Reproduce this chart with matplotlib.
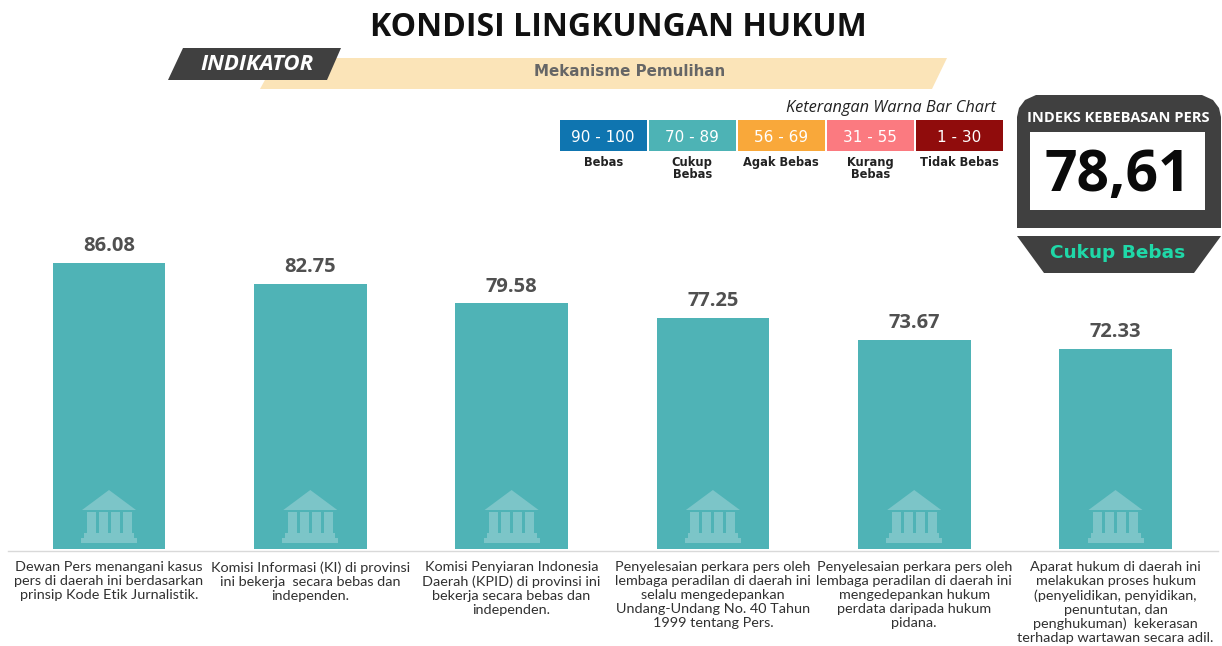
import matplotlib
matplotlib.use('Agg')
import numpy as np
import matplotlib.pyplot as plt
from matplotlib.patches import Polygon, Rectangle

W, H = 1222, 646

values = [86.08, 82.75, 79.58, 77.25, 73.67, 72.33]
captions = [
  'Dewan Pers menangani kasus\npers di daerah ini berdasarkan\nprinsip Kode Etik Jurnalistik.',
  'Komisi Informasi (KI) di provinsi\nini bekerja  secara bebas dan\nindependen.',
  'Komisi Penyiaran Indonesia\nDaerah (KPID) di provinsi ini\nbekerja secara bebas dan\nindependen.',
  'Penyelesaian perkara pers oleh\nlembaga peradilan di daerah ini\nselalu mengedepankan\nUndang-Undang No. 40 Tahun\n1999 tentang Pers.',
  'Penyelesaian perkara pers oleh\nlembaga peradilan di daerah ini\nmengedepankan hukum\nperdata daripada hukum\npidana.',
  'Aparat hukum di daerah ini\nmelakukan proses hukum\n(penyelidikan, penyidikan,\npenuntutan, dan\npenghukuman)  kekerasan\nterhadap wartawan secara adil.',
]
legend_ranges = ['90 - 100', '70 - 89', '56 - 69', '31 - 55', '1 - 30']
legend_names = ['Bebas', 'Cukup\nBebas', 'Agak Bebas', 'Kurang\nBebas', 'Tidak Bebas']
legend_colors = ['#0f75b0', '#4db3b5', '#f9a83a', '#fb7a80', '#900c0c']

BAR = '#4fb3b6'
ICON = '#7cc5c8'
DARK = '#404040'

fig = plt.figure(figsize=(W / 100, H / 100), dpi=100)

# bars: baseline is not zero, the axis starts near 40.3
ax = fig.add_axes([8.4 / W, (H - 549) / H, 1208 / W, 549 / H])
ax.patch.set_alpha(0)
x = np.arange(len(values))
ax.bar(x, values, width=0.56, color=BAR)
ax.set_xlim(-0.5, 5.5)
ax.set_ylim(40.3, 40.3 + 549 / 6.25)
ax.set_xticks([])
ax.set_yticks([])
for s in ax.spines.values():
  s.set_visible(False)
for i, v in enumerate(values):
  ax.annotate('%.2f' % v, (i, v), xytext=(0, 5), textcoords='offset points',
              ha='center', va='bottom', fontsize=14.5, fontweight='bold',
              family='Open Sans', color='#505050')

# everything else in pixel coordinates
ov = fig.add_axes([0, 0, 1, 1])
ov.patch.set_alpha(0)
ov.set_xlim(0, W)
ov.set_ylim(H, 0)
ov.axis('off')

ov.plot([8, 1218], [551, 551], color='#d9d9d9', lw=1)

def icon(cx):
  ov.add_patch(Polygon([(cx, 490), (cx + 27, 510), (cx - 27, 510)], color=ICON, lw=0))
  for dx in [-18, -6, 6, 18]:
    ov.add_patch(Rectangle((cx + dx - 4.5, 512), 9, 21, color=ICON, lw=0))
  ov.add_patch(Rectangle((cx - 25, 533), 50, 5, color=ICON, lw=0))
  ov.add_patch(Rectangle((cx - 28, 538), 56, 5, color=ICON, lw=0))

for i, cap in enumerate(captions):
  cx = 109 + i * 201.3
  icon(cx)
  ov.text(cx, 561, cap, ha='center', va='top', fontsize=10.4, family='Lato',
          color='#303030', linespacing=1.2)

# header
ov.text(618, 28, 'KONDISI LINGKUNGAN HUKUM', ha='center', va='center', fontsize=23,
        fontweight='bold', family='Open Sans', color='#111111')
ov.add_patch(Polygon([(277, 58), (947, 58), (932, 89), (260, 89)], color='#fbe4b8', lw=0))
ov.add_patch(Polygon([(183, 48), (341, 48), (327, 80), (168, 80)], color=DARK, lw=0))
ov.text(257, 65, 'INDIKATOR', ha='center', va='center', fontsize=16, color='white',
        fontweight='bold', style='italic', family='Open Sans')
ov.text(630, 72, 'Mekanisme Pemulihan', ha='center', va='center', fontsize=10.9,
        color='#666666', fontweight='bold', family='DejaVu Sans')

# colour legend
ov.text(996, 108, 'Keterangan Warna Bar Chart', ha='right', va='center', fontsize=11.8,
        style='italic', family='Open Sans', color='#222222')
for i in range(5):
  x0 = 559.5 + i * 89
  ov.add_patch(Rectangle((x0, 120), 87.5, 31, color=legend_colors[i], lw=0))
  ov.text(x0 + 43.7, 137, legend_ranges[i], ha='center', va='center', fontsize=11,
          color='white', family='DejaVu Sans')
  ov.text(x0 + 43.7, 156, legend_names[i], ha='center', va='top', fontsize=8.3, color='#222222',
          fontweight='bold', family='DejaVu Sans', linespacing=0.95)

# score card
ov.add_patch(Polygon([(1017, 117), (1019, 108), (1025, 100), (1036, 95), (1202, 95), (1213, 100),
                      (1219, 108), (1221, 117), (1221, 228), (1017, 228)], color=DARK, lw=0))
ov.add_patch(Rectangle((1030, 132), 175, 78, color='white', lw=0))
ov.add_patch(Polygon([(1017, 236), (1221, 236), (1194, 273), (1044, 273)], color=DARK, lw=0))
ov.text(1118, 118.5, 'INDEKS KEBEBASAN PERS', ha='center', va='center', fontsize=10.5,
        color='white', fontweight='bold', family='Open Sans')
ov.text(1118, 176, '78,61', ha='center', va='center', fontsize=41, color='#0a0a0a',
        fontweight='bold', family='Open Sans')
ov.text(1118, 252.5, 'Cukup Bebas', ha='center', va='center', fontsize=13.3, color='#1fd8a8',
        fontweight='bold', family='DejaVu Sans')

fig.savefig('out.png', dpi=100)
